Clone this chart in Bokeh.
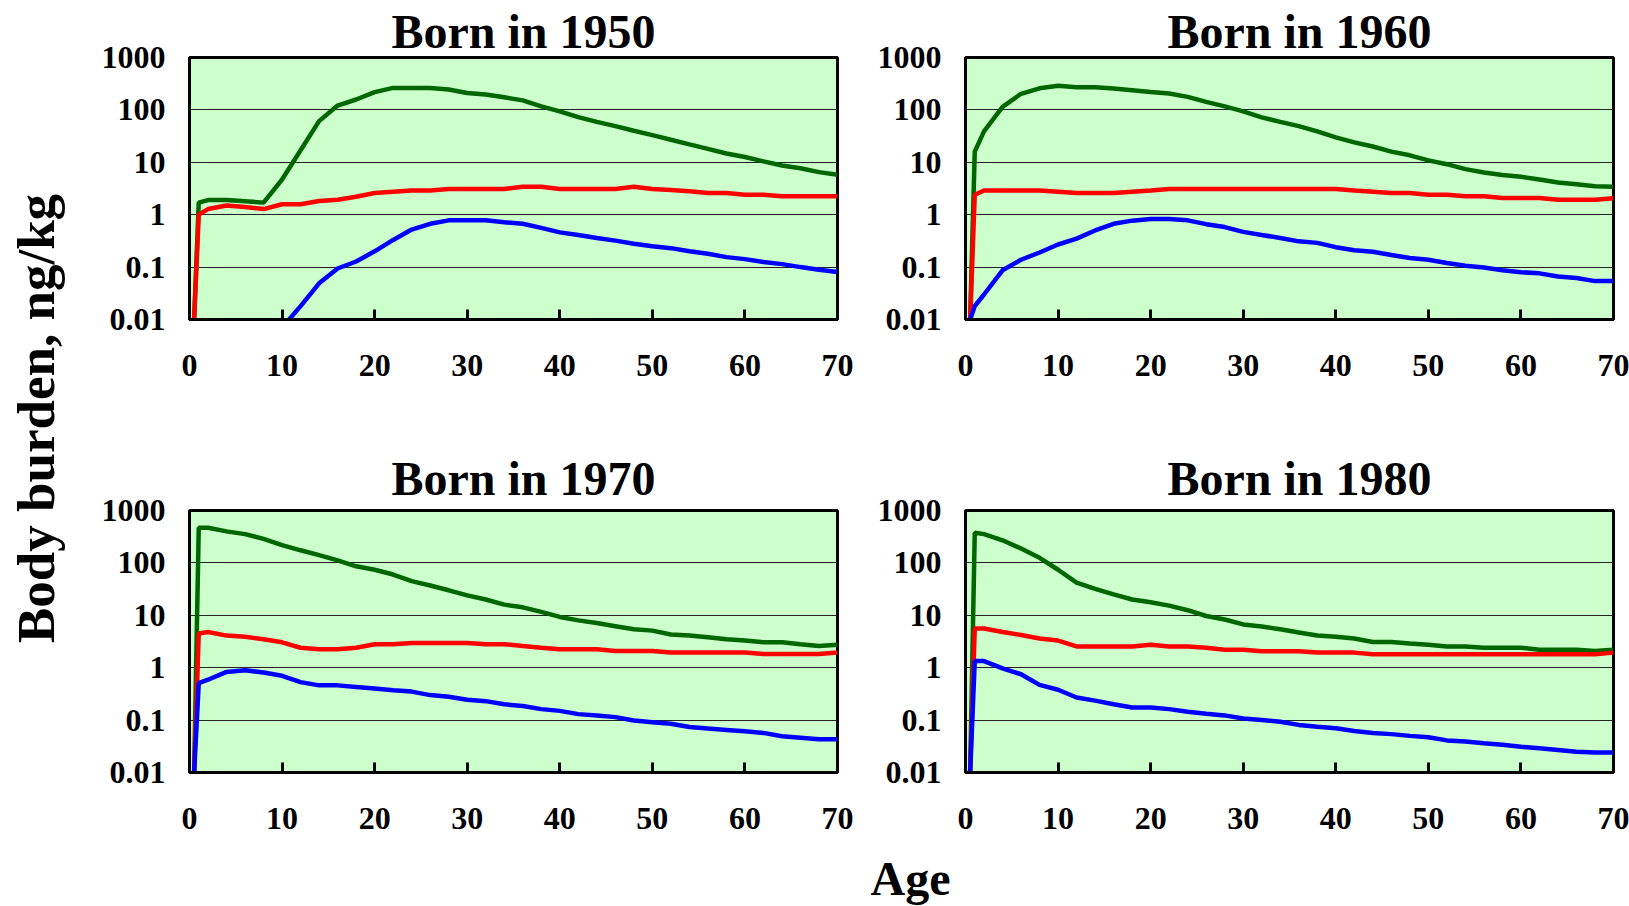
import math
from bokeh.plotting import figure
from bokeh.models import FixedTicker, CustomJSTickFormatter, Range1d, Label
from bokeh.layouts import row, column
from bokeh.embed import file_html
from bokeh.resources import INLINE

NAN = float("nan")

AGES = [0.5, 1, 2, 4, 6, 8, 10, 12, 14, 16, 18, 20, 22, 24, 26, 28, 30, 32, 34, 36,
        38, 40, 42, 44, 46, 48, 50, 52, 54, 56, 58, 60, 62, 64, 66, 68, 70]

TITLES = ["Born in 1950", "Born in 1960", "Born in 1970", "Born in 1980"]

GREEN_1950 = [0.01, 1.7, 1.9, 1.9, 1.8, 1.7, 4.7, 17, 61, 121, 158, 218, 263, 263, 263, 245, 210, 196, 174, 152,
              117, 94, 73, 59, 49, 40, 33, 27, 22, 18, 14.7, 12.6, 10.4, 8.7, 7.7, 6.5, 5.8]
RED_1950 = [0.01, 1.0, 1.28, 1.5, 1.4, 1.28, 1.58, 1.58, 1.83, 1.93, 2.2, 2.6, 2.75, 2.9, 2.9, 3.1, 3.1, 3.1, 3.1, 3.4,
            3.4, 3.1, 3.1, 3.1, 3.1, 3.4, 3.1, 2.95, 2.8, 2.6, 2.6, 2.4, 2.4, 2.25, 2.25, 2.25, 2.25]
BLUE_1950 = [NAN, NAN, NAN, NAN, NAN, NAN, 0.007, 0.018, 0.049, 0.094, 0.128, 0.2, 0.33, 0.52, 0.67, 0.78, 0.78, 0.78, 0.72, 0.67,
             0.56, 0.46, 0.41, 0.36, 0.32, 0.28, 0.25, 0.23, 0.2, 0.18, 0.155, 0.142, 0.125, 0.114, 0.1, 0.089, 0.081]

GREEN_1960 = [0.01, 16, 39, 114, 203, 258, 290, 270, 270, 255, 237, 220, 205, 177, 142, 117, 94, 72, 59, 49,
              39, 30, 24, 20, 16, 13.6, 10.9, 9.2, 7.4, 6.4, 5.7, 5.3, 4.7, 4.1, 3.8, 3.5, 3.4]
RED_1960 = [0.01, 2.4, 2.9, 2.9, 2.9, 2.9, 2.75, 2.6, 2.6, 2.6, 2.75, 2.9, 3.1, 3.1, 3.1, 3.1, 3.1, 3.1, 3.1, 3.1,
            3.1, 3.1, 2.9, 2.75, 2.6, 2.6, 2.4, 2.4, 2.25, 2.25, 2.08, 2.08, 2.08, 1.93, 1.93, 1.93, 2.05]
BLUE_1960 = [0.01, 0.018, 0.03, 0.087, 0.138, 0.19, 0.27, 0.35, 0.5, 0.67, 0.77, 0.83, 0.83, 0.78, 0.66, 0.58, 0.47, 0.41, 0.36, 0.31,
             0.29, 0.24, 0.21, 0.196, 0.17, 0.149, 0.138, 0.12, 0.106, 0.098, 0.087, 0.08, 0.076, 0.066, 0.062, 0.054, 0.054]

GREEN_1970 = [0.01, 468, 468, 400, 354, 288, 218, 174, 141, 112, 86, 74, 60, 45, 37, 30, 24, 20, 16, 14.2,
              11.6, 9.3, 8.0, 7.1, 6.2, 5.4, 5.1, 4.3, 4.1, 3.8, 3.5, 3.3, 3.05, 3.05, 2.8, 2.6, 2.75]
RED_1970 = [0.01, 4.5, 4.8, 4.1, 3.9, 3.5, 3.05, 2.4, 2.24, 2.24, 2.4, 2.8, 2.8, 2.96, 2.96, 2.96, 2.96, 2.8, 2.8, 2.6,
            2.4, 2.24, 2.24, 2.24, 2.08, 2.08, 2.08, 1.96, 1.96, 1.96, 1.96, 1.96, 1.82, 1.82, 1.82, 1.82, 1.96]
BLUE_1970 = [0.01, 0.51, 0.59, 0.83, 0.89, 0.81, 0.7, 0.53, 0.46, 0.46, 0.43, 0.40, 0.37, 0.35, 0.30, 0.28, 0.245, 0.23, 0.2, 0.186,
             0.162, 0.15, 0.13, 0.123, 0.114, 0.098, 0.091, 0.085, 0.074, 0.069, 0.065, 0.061, 0.057, 0.049, 0.046, 0.043, 0.043]

GREEN_1980 = [0.01, 375, 354, 270, 188, 125, 74, 42, 32, 25, 20, 17.7, 15.3, 12.5, 9.7, 8.3, 6.7, 6.1, 5.4, 4.7,
              4.1, 3.9, 3.6, 3.1, 3.1, 2.9, 2.75, 2.55, 2.55, 2.4, 2.4, 2.4, 2.2, 2.2, 2.2, 2.08, 2.2]
RED_1980 = [0.01, 5.6, 5.6, 4.8, 4.2, 3.6, 3.3, 2.55, 2.55, 2.55, 2.55, 2.75, 2.55, 2.55, 2.4, 2.2, 2.2, 2.05, 2.05, 2.05,
            1.94, 1.94, 1.94, 1.8, 1.8, 1.8, 1.8, 1.8, 1.8, 1.8, 1.8, 1.8, 1.8, 1.8, 1.8, 1.8, 1.94]
BLUE_1980 = [0.01, 1.34, 1.34, 0.97, 0.75, 0.47, 0.38, 0.27, 0.235, 0.2, 0.174, 0.174, 0.162, 0.144, 0.132, 0.123, 0.107, 0.1, 0.093, 0.081,
             0.075, 0.07, 0.062, 0.057, 0.054, 0.05, 0.047, 0.041, 0.039, 0.036, 0.034, 0.031, 0.029, 0.027, 0.025, 0.024, 0.024]

X_TICKS = [0, 10, 20, 30, 40, 50, 60, 70]
Y_TICKS = [0.01, 0.1, 1, 10, 100, 1000]

Y_LABEL = "Body burden, ng/kg"
X_LABEL = "Age"

SERIES = [
    (GREEN_1950, RED_1950, BLUE_1950),
    (GREEN_1960, RED_1960, BLUE_1960),
    (GREEN_1970, RED_1970, BLUE_1970),
    (GREEN_1980, RED_1980, BLUE_1980),
]
for s in SERIES:
    for arr in s:
        assert len(arr) == len(AGES), len(arr)

FONT = "Liberation Serif"
COLORS = ["#006600", "#FF0000", "#0000FF"]


def make_panel(title, series, width, height, bl, br, bt, bb, standoff):
    p = figure(width=width, height=height, y_axis_type="log",
               x_range=Range1d(0, 70), y_range=Range1d(0.01, 1000),
               output_backend="svg", toolbar_location=None,
               min_border_left=bl, min_border_right=br,
               min_border_top=bt, min_border_bottom=bb,
               background_fill_color="#CCFFCC", border_fill_color="white")
    p.title.text = title
    p.title.text_font = FONT
    p.title.text_font_style = "bold"
    p.title.text_font_size = "48px"
    p.title.text_color = "black"
    p.title.align = "left"
    p.title.offset = 202
    p.title.standoff = standoff
    p.outline_line_color = "black"
    p.outline_line_width = 3
    p.outline_line_alpha = 1

    xa = p.xaxis[0]
    xa.ticker = FixedTicker(ticks=X_TICKS, minor_ticks=[])
    xa.major_tick_in = 10
    xa.major_tick_out = 0
    xa.major_tick_line_width = 3
    xa.major_tick_line_color = "black"
    xa.minor_tick_line_color = None
    xa.axis_line_color = "black"
    xa.axis_line_width = 3
    xa.major_label_text_font = FONT
    xa.major_label_text_font_style = "bold"
    xa.major_label_text_font_size = "32px"
    xa.major_label_text_color = "black"
    xa.major_label_standoff = 35

    ya = p.yaxis[0]
    ya.ticker = FixedTicker(ticks=Y_TICKS, minor_ticks=[])
    ya.formatter = CustomJSTickFormatter(code="""
        if (tick >= 1) { return tick.toFixed(0); }
        return String(parseFloat(tick.toPrecision(1)));
    """)
    ya.major_tick_in = 0
    ya.major_tick_out = 0
    ya.minor_tick_line_color = None
    ya.axis_line_color = "black"
    ya.axis_line_width = 3
    ya.major_label_text_font = FONT
    ya.major_label_text_font_style = "bold"
    ya.major_label_text_font_size = "32px"
    ya.major_label_text_color = "black"
    ya.major_label_standoff = 24

    p.xgrid.grid_line_color = None
    p.ygrid.ticker = FixedTicker(ticks=Y_TICKS, minor_ticks=[])
    p.ygrid.grid_line_color = "#222222"
    p.ygrid.grid_line_width = 1

    for vals, col in zip(series, COLORS):
        p.line(AGES, vals, line_color=col, line_width=4.5)
    return p


p1 = make_panel(TITLES[0], SERIES[0], 780, 440, 99, 33, 57, 121, 0)
p2 = make_panel(TITLES[1], SERIES[1], 759, 440, 95, 16, 57, 121, 0)
p3 = make_panel(TITLES[2], SERIES[2], 780, 410, 99, 33, 70, 78, 11)
p4 = make_panel(TITLES[3], SERIES[3], 759, 410, 95, 16, 70, 78, 11)


def blank(width, height):
    f = figure(width=width, height=height, x_range=Range1d(0, width), y_range=Range1d(0, height),
               output_backend="svg", toolbar_location=None,
               min_border=0, min_border_left=0, min_border_right=0, min_border_top=0, min_border_bottom=0,
               x_axis_location=None, y_axis_location=None)
    f.outline_line_color = None
    f.xgrid.grid_line_color = None
    f.ygrid.grid_line_color = None
    f.background_fill_color = "white"
    f.border_fill_color = "white"
    return f


ylab = blank(90, 906)
ylab.add_layout(Label(x=35, y=488, text=Y_LABEL, angle=math.pi / 2,
                      text_align="center", text_baseline="middle",
                      text_font=FONT, text_font_style="bold", text_font_size="53px",
                      text_color="black"))

agefig = blank(1539, 56)
agefig.add_layout(Label(x=820, y=28, text=X_LABEL, text_align="center", text_baseline="middle",
                        text_font=FONT, text_font_style="bold", text_font_size="48px",
                        text_color="black"))

layout = row(ylab, column(row(p1, p2), row(p3, p4), agefig))

open("out.html", "w").write(file_html(layout, INLINE))
